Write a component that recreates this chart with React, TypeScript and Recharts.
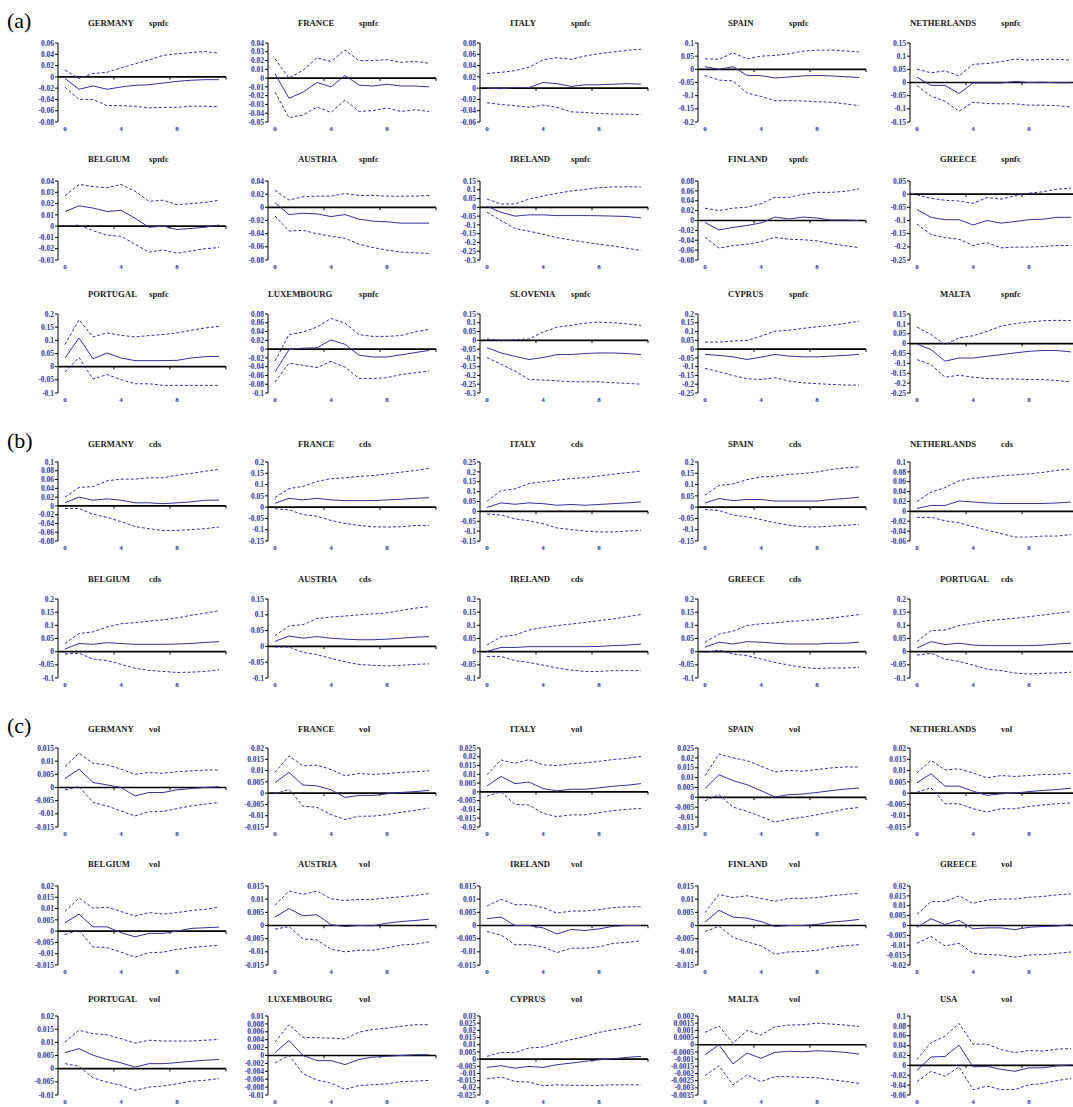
import React from 'react';
import { LineChart, Line, XAxis, YAxis, ReferenceLine } from 'recharts';

// impulse-response horizons and labelled ticks
const horizons = [0, 1, 2, 3, 4, 5, 6, 7, 8, 9, 10, 11];
const xTicks = [0, 4, 8];

// ---------- (a) spnfc ----------
const aGermanyUp = [0.012, -0.003, 0.006, 0.008, 0.016, 0.023, 0.03, 0.038, 0.041, 0.043, 0.045, 0.042];
const aGermanyMid = [-0.003, -0.022, -0.016, -0.022, -0.018, -0.015, -0.014, -0.011, -0.008, -0.006, -0.005, -0.005];
const aGermanyLo = [-0.018, -0.04, -0.04, -0.051, -0.051, -0.052, -0.055, -0.054, -0.054, -0.052, -0.052, -0.053];
const aFranceUp = [0.022, 0.0, 0.009, 0.023, 0.019, 0.032, 0.02, 0.02, 0.021, 0.018, 0.019, 0.017];
const aFranceMid = [0.005, -0.023, -0.016, -0.005, -0.01, 0.003, -0.008, -0.009, -0.007, -0.009, -0.009, -0.01];
const aFranceLo = [-0.016, -0.045, -0.042, -0.033, -0.039, -0.025, -0.038, -0.037, -0.034, -0.038, -0.036, -0.038];
const aItalyUp = [0.026, 0.028, 0.031, 0.037, 0.05, 0.054, 0.051, 0.057, 0.061, 0.064, 0.067, 0.069];
const aItalyMid = [0.0, -0.001, 0.001, 0.001, 0.01, 0.008, 0.003, 0.006, 0.006, 0.007, 0.008, 0.007];
const aItalyLo = [-0.026, -0.029, -0.031, -0.034, -0.03, -0.034, -0.042, -0.043, -0.045, -0.046, -0.046, -0.047];
const aSpainUp = [0.04, 0.038, 0.063, 0.04, 0.05, 0.053, 0.059, 0.069, 0.073, 0.073, 0.07, 0.066];
const aSpainMid = [0.01, 0.0, 0.01, -0.023, -0.024, -0.033, -0.029, -0.025, -0.023, -0.025, -0.028, -0.031];
const aSpainLo = [-0.023, -0.041, -0.044, -0.09, -0.103, -0.119, -0.119, -0.12, -0.123, -0.125, -0.131, -0.138];
const aNetherlandsUp = [0.05, 0.037, 0.044, 0.025, 0.069, 0.072, 0.079, 0.089, 0.085, 0.088, 0.088, 0.085];
const aNetherlandsMid = [0.02, -0.011, -0.011, -0.042, -0.002, -0.002, -0.002, 0.004, 0.0, 0.001, -0.001, -0.001];
const aNetherlandsLo = [-0.012, -0.052, -0.071, -0.109, -0.075, -0.08, -0.081, -0.081, -0.086, -0.086, -0.088, -0.093];

const aBelgiumUp = [0.027, 0.037, 0.035, 0.034, 0.037, 0.031, 0.022, 0.023, 0.019, 0.02, 0.021, 0.023];
const aBelgiumMid = [0.013, 0.018, 0.016, 0.013, 0.014, 0.007, -0.001, 0.0, -0.003, -0.002, -0.001, 0.001];
const aBelgiumLo = [0.0, 0.001, -0.004, -0.008, -0.009, -0.016, -0.023, -0.021, -0.024, -0.022, -0.02, -0.019];
const aAustriaUp = [0.026, 0.011, 0.016, 0.017, 0.017, 0.021, 0.018, 0.018, 0.017, 0.017, 0.017, 0.018];
const aAustriaMid = [0.007, -0.011, -0.009, -0.01, -0.014, -0.011, -0.018, -0.021, -0.022, -0.024, -0.024, -0.024];
const aAustriaLo = [-0.013, -0.036, -0.035, -0.04, -0.044, -0.047, -0.056, -0.061, -0.065, -0.068, -0.069, -0.07];
const aIrelandUp = [0.047, 0.019, 0.019, 0.047, 0.065, 0.08, 0.093, 0.102, 0.112, 0.116, 0.117, 0.116];
const aIrelandMid = [0.006, -0.028, -0.05, -0.043, -0.043, -0.047, -0.047, -0.047, -0.048, -0.05, -0.052, -0.06];
const aIrelandLo = [-0.028, -0.075, -0.121, -0.136, -0.153, -0.173, -0.186, -0.199, -0.21, -0.22, -0.233, -0.246];
const aFinlandUp = [0.025, 0.02, 0.025, 0.027, 0.034, 0.047, 0.047, 0.053, 0.057, 0.057, 0.059, 0.064];
const aFinlandMid = [-0.004, -0.019, -0.014, -0.01, -0.005, 0.007, 0.003, 0.007, 0.005, 0.001, 0.001, 0.0];
const aFinlandLo = [-0.034, -0.056, -0.051, -0.048, -0.043, -0.034, -0.038, -0.039, -0.041, -0.047, -0.051, -0.055];
const aGreeceUp = [-0.003, -0.016, -0.023, -0.026, -0.035, -0.013, -0.019, -0.006, 0.004, 0.009, 0.019, 0.023];
const aGreeceMid = [-0.058, -0.088, -0.097, -0.097, -0.117, -0.1, -0.11, -0.104, -0.097, -0.095, -0.088, -0.088];
const aGreeceLo = [-0.114, -0.153, -0.165, -0.171, -0.195, -0.184, -0.204, -0.201, -0.201, -0.199, -0.195, -0.195];

const aPortugalUp = [0.084, 0.178, 0.113, 0.128, 0.119, 0.113, 0.118, 0.122, 0.128, 0.138, 0.147, 0.153];
const aPortugalMid = [0.033, 0.109, 0.03, 0.052, 0.033, 0.023, 0.023, 0.023, 0.024, 0.033, 0.038, 0.039];
const aPortugalLo = [-0.02, 0.035, -0.047, -0.03, -0.049, -0.065, -0.065, -0.071, -0.071, -0.071, -0.071, -0.071];
const aLuxembourgUp = [-0.027, 0.033, 0.039, 0.05, 0.07, 0.059, 0.033, 0.029, 0.029, 0.031, 0.039, 0.045];
const aLuxembourgMid = [-0.052, -0.001, 0.002, 0.003, 0.021, 0.011, -0.014, -0.018, -0.018, -0.013, -0.008, -0.003];
const aLuxembourgLo = [-0.075, -0.032, -0.037, -0.042, -0.028, -0.041, -0.067, -0.067, -0.065, -0.058, -0.054, -0.05];
const aSloveniaUp = [0.008, 0.0, 0.004, 0.008, 0.047, 0.075, 0.085, 0.098, 0.104, 0.1, 0.094, 0.085];
const aSloveniaMid = [-0.042, -0.072, -0.091, -0.109, -0.098, -0.081, -0.081, -0.075, -0.072, -0.072, -0.075, -0.081];
const aSloveniaLo = [-0.098, -0.136, -0.175, -0.223, -0.226, -0.23, -0.236, -0.236, -0.236, -0.242, -0.245, -0.25];
const aCyprusUp = [0.04, 0.04, 0.046, 0.049, 0.074, 0.102, 0.108, 0.118, 0.127, 0.135, 0.146, 0.159];
const aCyprusMid = [-0.03, -0.036, -0.044, -0.059, -0.046, -0.03, -0.04, -0.044, -0.044, -0.04, -0.036, -0.03];
const aCyprusLo = [-0.11, -0.129, -0.15, -0.169, -0.173, -0.163, -0.182, -0.192, -0.197, -0.201, -0.205, -0.205];
const aMaltaUp = [0.084, 0.046, -0.005, 0.029, 0.04, 0.062, 0.088, 0.101, 0.11, 0.116, 0.118, 0.116];
const aMaltaMid = [-0.002, -0.03, -0.089, -0.073, -0.073, -0.064, -0.056, -0.047, -0.039, -0.035, -0.035, -0.042];
const aMaltaLo = [-0.081, -0.106, -0.17, -0.16, -0.17, -0.177, -0.179, -0.179, -0.182, -0.182, -0.187, -0.194];

// ---------- (b) cds ----------
const bGermanyUp = [0.02, 0.042, 0.044, 0.057, 0.061, 0.061, 0.064, 0.064, 0.07, 0.074, 0.079, 0.083];
const bGermanyMid = [0.007, 0.02, 0.013, 0.016, 0.013, 0.007, 0.007, 0.005, 0.007, 0.009, 0.013, 0.013];
const bGermanyLo = [-0.006, -0.006, -0.019, -0.026, -0.036, -0.047, -0.052, -0.056, -0.056, -0.054, -0.052, -0.048];
const bFranceUp = [0.043, 0.082, 0.092, 0.114, 0.126, 0.13, 0.136, 0.14, 0.147, 0.155, 0.162, 0.172];
const bFranceMid = [0.017, 0.039, 0.032, 0.039, 0.032, 0.029, 0.029, 0.029, 0.032, 0.035, 0.039, 0.042];
const bFranceLo = [-0.007, -0.012, -0.033, -0.04, -0.059, -0.072, -0.081, -0.087, -0.088, -0.087, -0.081, -0.081];
const bItalyUp = [0.051, 0.105, 0.114, 0.141, 0.15, 0.158, 0.166, 0.171, 0.179, 0.188, 0.196, 0.204];
const bItalyMid = [0.02, 0.043, 0.036, 0.043, 0.039, 0.031, 0.035, 0.031, 0.035, 0.039, 0.043, 0.048];
const bItalyLo = [-0.013, -0.018, -0.038, -0.048, -0.063, -0.084, -0.092, -0.1, -0.104, -0.104, -0.1, -0.097];
const bSpainUp = [0.053, 0.096, 0.103, 0.122, 0.134, 0.137, 0.145, 0.149, 0.156, 0.167, 0.174, 0.178];
const bSpainMid = [0.019, 0.038, 0.029, 0.034, 0.034, 0.027, 0.027, 0.027, 0.027, 0.034, 0.038, 0.044];
const bSpainLo = [-0.01, -0.015, -0.035, -0.043, -0.055, -0.069, -0.08, -0.087, -0.088, -0.084, -0.08, -0.077];
const bNetherlandsUp = [0.02, 0.039, 0.048, 0.062, 0.067, 0.069, 0.072, 0.074, 0.076, 0.079, 0.083, 0.086];
const bNetherlandsMid = [0.006, 0.012, 0.012, 0.021, 0.019, 0.017, 0.016, 0.016, 0.016, 0.016, 0.017, 0.019];
const bNetherlandsLo = [-0.012, -0.012, -0.019, -0.023, -0.031, -0.038, -0.045, -0.052, -0.052, -0.05, -0.05, -0.047];

const bBelgiumUp = [0.031, 0.069, 0.075, 0.094, 0.106, 0.11, 0.116, 0.121, 0.128, 0.138, 0.146, 0.156];
const bBelgiumMid = [0.01, 0.031, 0.028, 0.034, 0.031, 0.028, 0.028, 0.028, 0.029, 0.031, 0.035, 0.038];
const bBelgiumLo = [-0.009, -0.006, -0.028, -0.034, -0.048, -0.063, -0.071, -0.075, -0.079, -0.078, -0.075, -0.069];
const bAustriaUp = [0.034, 0.065, 0.069, 0.088, 0.093, 0.096, 0.1, 0.103, 0.106, 0.114, 0.121, 0.126];
const bAustriaMid = [0.016, 0.033, 0.026, 0.031, 0.026, 0.023, 0.021, 0.021, 0.023, 0.026, 0.029, 0.031];
const bAustriaLo = [-0.002, -0.002, -0.019, -0.026, -0.038, -0.049, -0.057, -0.06, -0.062, -0.06, -0.057, -0.055];
const bIrelandUp = [0.025, 0.057, 0.063, 0.082, 0.092, 0.099, 0.105, 0.111, 0.118, 0.124, 0.133, 0.141];
const bIrelandMid = [0.001, 0.016, 0.016, 0.019, 0.019, 0.019, 0.019, 0.019, 0.02, 0.023, 0.025, 0.029];
const bIrelandLo = [-0.018, -0.018, -0.034, -0.041, -0.051, -0.062, -0.07, -0.075, -0.075, -0.072, -0.072, -0.072];
const bGreeceUp = [0.036, 0.067, 0.078, 0.099, 0.106, 0.109, 0.115, 0.118, 0.122, 0.127, 0.134, 0.141];
const bGreeceMid = [0.017, 0.036, 0.029, 0.038, 0.036, 0.032, 0.029, 0.029, 0.029, 0.032, 0.032, 0.036];
const bGreeceLo = [-0.003, 0.006, -0.009, -0.015, -0.028, -0.041, -0.051, -0.06, -0.064, -0.062, -0.062, -0.06];
const bPortugalUp = [0.038, 0.08, 0.082, 0.099, 0.108, 0.118, 0.122, 0.127, 0.133, 0.139, 0.146, 0.152];
const bPortugalMid = [0.014, 0.038, 0.027, 0.032, 0.025, 0.023, 0.023, 0.023, 0.023, 0.025, 0.029, 0.032];
const bPortugalLo = [-0.013, -0.006, -0.028, -0.037, -0.051, -0.066, -0.072, -0.081, -0.085, -0.082, -0.081, -0.078];

// ---------- (c) vol ----------
const cGermanyUp = [0.008, 0.013, 0.0092, 0.0086, 0.007, 0.005, 0.0057, 0.0054, 0.006, 0.0063, 0.0066, 0.0067];
const cGermanyMid = [0.0034, 0.007, 0.0019, 0.001, 0.0, -0.0032, -0.0019, -0.0019, -0.0009, -0.0004, 0.0, 0.0003];
const cGermanyLo = [-0.0009, 0.0004, -0.0057, -0.007, -0.0089, -0.0108, -0.0092, -0.0091, -0.008, -0.007, -0.0063, -0.0057];
const cFranceUp = [0.0092, 0.0165, 0.0121, 0.0124, 0.0105, 0.0077, 0.0087, 0.0083, 0.0087, 0.0092, 0.0095, 0.0099];
const cFranceMid = [0.0047, 0.0092, 0.0036, 0.0032, 0.0015, -0.0019, -0.001, -0.001, -0.0003, 0.0003, 0.0007, 0.0012];
const cFranceLo = [-0.0003, 0.0017, -0.0058, -0.0063, -0.0095, -0.0117, -0.0102, -0.0102, -0.0095, -0.0085, -0.0076, -0.0066];
const cItalyUp = [0.0098, 0.0182, 0.0163, 0.0184, 0.0154, 0.015, 0.016, 0.0165, 0.0174, 0.0184, 0.0191, 0.0202];
const cItalyMid = [0.0034, 0.0088, 0.0047, 0.0056, 0.0019, 0.0006, 0.0015, 0.0015, 0.0023, 0.0032, 0.0038, 0.0047];
const cItalyLo = [-0.0024, 0.0, -0.0071, -0.0075, -0.0122, -0.0141, -0.0131, -0.0131, -0.0118, -0.0107, -0.0099, -0.0094];
const cSpainUp = [0.011, 0.022, 0.02, 0.0186, 0.0158, 0.0129, 0.0137, 0.0132, 0.0141, 0.0149, 0.0154, 0.0154];
const cSpainMid = [0.0044, 0.0115, 0.0085, 0.0064, 0.0034, 0.0002, 0.0014, 0.0017, 0.0025, 0.0034, 0.0042, 0.0047];
const cSpainLo = [-0.0017, 0.0014, -0.0049, -0.0071, -0.0097, -0.0125, -0.011, -0.01, -0.0088, -0.0075, -0.0059, -0.0051];
const cNetherlandsUp = [0.009, 0.0145, 0.0103, 0.0108, 0.0089, 0.0068, 0.0078, 0.0074, 0.0078, 0.0083, 0.0083, 0.0089];
const cNetherlandsMid = [0.0046, 0.0086, 0.0031, 0.0031, 0.0009, -0.001, -0.0003, 0.0, 0.0007, 0.0012, 0.0016, 0.0022];
const cNetherlandsLo = [0.0004, 0.0024, -0.0047, -0.0047, -0.0069, -0.0084, -0.0069, -0.0069, -0.0059, -0.0052, -0.0047, -0.0043];

const cBelgiumUp = [0.0087, 0.0147, 0.0102, 0.0106, 0.0087, 0.0067, 0.0082, 0.0076, 0.0082, 0.0091, 0.0097, 0.0106];
const cBelgiumMid = [0.0037, 0.0075, 0.0019, 0.0019, -0.0007, -0.0025, -0.001, -0.001, 0.0, 0.0012, 0.0015, 0.0018];
const cBelgiumLo = [-0.0015, 0.0004, -0.007, -0.0073, -0.0093, -0.0115, -0.0096, -0.0093, -0.0081, -0.0073, -0.0067, -0.0063];
const cAustriaUp = [0.0077, 0.0131, 0.0118, 0.0131, 0.0101, 0.0095, 0.0099, 0.0099, 0.0105, 0.0109, 0.0114, 0.0121];
const cAustriaMid = [0.0032, 0.0064, 0.0037, 0.0041, 0.0003, -0.0004, 0.0, -0.0001, 0.0009, 0.0015, 0.0019, 0.0024];
const cAustriaLo = [-0.0014, -0.0004, -0.0051, -0.0055, -0.009, -0.01, -0.0094, -0.0094, -0.0085, -0.0074, -0.0071, -0.0062];
const cIrelandUp = [0.0074, 0.01, 0.0079, 0.0079, 0.0068, 0.0047, 0.0055, 0.0055, 0.006, 0.0068, 0.0071, 0.0071];
const cIrelandMid = [0.0026, 0.0032, 0.0, 0.0, -0.0009, -0.0032, -0.0015, -0.0019, -0.0013, -0.0003, 0.0, 0.0];
const cIrelandLo = [-0.0023, -0.0036, -0.0073, -0.0073, -0.0081, -0.0103, -0.0086, -0.0086, -0.0081, -0.0068, -0.0064, -0.0058];
const cFinlandUp = [0.0049, 0.0118, 0.0106, 0.0113, 0.0103, 0.0092, 0.0103, 0.0103, 0.0106, 0.0113, 0.0118, 0.0122];
const cFinlandMid = [0.0013, 0.0058, 0.0032, 0.0028, 0.0015, -0.0004, 0.0, 0.0, 0.0004, 0.0013, 0.0017, 0.0023];
const cFinlandLo = [-0.0023, -0.0003, -0.0045, -0.0062, -0.0077, -0.0109, -0.01, -0.0099, -0.0094, -0.0083, -0.0077, -0.0073];
const cGreeceUp = [0.0057, 0.0121, 0.0121, 0.015, 0.0112, 0.0129, 0.0134, 0.0134, 0.0143, 0.0147, 0.0155, 0.016];
const cGreeceMid = [-0.0009, 0.0034, 0.0005, 0.0026, -0.0017, -0.0012, -0.0012, -0.0021, -0.0009, -0.0005, -0.0003, 0.0005];
const cGreeceLo = [-0.009, -0.0055, -0.0103, -0.009, -0.0141, -0.0147, -0.015, -0.016, -0.015, -0.0147, -0.0141, -0.0134];

const cPortugalUp = [0.0101, 0.0146, 0.0133, 0.0129, 0.0114, 0.0097, 0.0108, 0.0105, 0.0105, 0.0105, 0.0108, 0.0111];
const cPortugalMid = [0.0061, 0.0076, 0.0051, 0.0035, 0.0022, 0.0006, 0.0019, 0.0019, 0.0023, 0.0028, 0.0032, 0.0035];
const cPortugalLo = [0.0019, 0.0009, -0.0035, -0.0051, -0.0063, -0.0082, -0.007, -0.0066, -0.0057, -0.0048, -0.0044, -0.0038];
const cLuxembourgUp = [0.0034, 0.0078, 0.0046, 0.0045, 0.0044, 0.0042, 0.0059, 0.0066, 0.0069, 0.0074, 0.0078, 0.0078];
const cLuxembourgMid = [0.0007, 0.0038, 0.0, -0.0013, -0.0013, -0.0023, -0.001, -0.0004, -0.0002, 0.0, 0.0002, 0.0002];
const cLuxembourgLo = [-0.0019, 0.0, -0.0046, -0.0062, -0.007, -0.0086, -0.0076, -0.0074, -0.0072, -0.0066, -0.0065, -0.0063];
const cCyprusUp = [0.0019, 0.0046, 0.0046, 0.0077, 0.0084, 0.0111, 0.0135, 0.0158, 0.0186, 0.0204, 0.022, 0.0244];
const cCyprusMid = [-0.0058, -0.0046, -0.0063, -0.0051, -0.0058, -0.0039, -0.0028, -0.0016, -0.0005, 0.0002, 0.0012, 0.0019];
const cCyprusLo = [-0.0137, -0.0125, -0.0155, -0.016, -0.0186, -0.0179, -0.0183, -0.0183, -0.0183, -0.0179, -0.0179, -0.0179];
const cMaltaUp = [0.00086, 0.0013, 0.0001, 0.001, 0.00067, 0.00125, 0.00137, 0.00139, 0.0015, 0.00144, 0.00137, 0.00127];
const cMaltaMid = [-0.0007, 0.0, -0.00134, -0.00058, -0.00095, -0.00053, -0.00046, -0.00049, -0.00042, -0.00046, -0.00053, -0.00065];
const cMaltaLo = [-0.00215, -0.00146, -0.0028, -0.0021, -0.00257, -0.00222, -0.00222, -0.00227, -0.00231, -0.00243, -0.00255, -0.00269];
const cUsaUp = [0.012, 0.046, 0.059, 0.085, 0.043, 0.043, 0.032, 0.026, 0.03, 0.029, 0.033, 0.034];
const cUsaMid = [-0.01, 0.017, 0.018, 0.041, -0.003, -0.002, -0.008, -0.012, -0.005, -0.005, -0.001, 0.001];
const cUsaLo = [-0.033, -0.012, -0.022, -0.003, -0.049, -0.042, -0.049, -0.049, -0.039, -0.037, -0.031, -0.026];

// y-axis ranges [min, max, step] for each row of panels
const axesA1 = [[-0.08, 0.06, 0.02], [-0.05, 0.04, 0.01], [-0.06, 0.08, 0.02], [-0.2, 0.1, 0.05], [-0.15, 0.15, 0.05]];
const axesA2 = [[-0.03, 0.04, 0.01], [-0.08, 0.04, 0.02], [-0.3, 0.15, 0.05], [-0.08, 0.08, 0.02], [-0.25, 0.05, 0.05]];
const axesA3 = [[-0.1, 0.2, 0.05], [-0.1, 0.08, 0.02], [-0.3, 0.15, 0.05], [-0.25, 0.2, 0.05], [-0.25, 0.15, 0.05]];
const axesB1 = [[-0.08, 0.1, 0.02], [-0.15, 0.2, 0.05], [-0.15, 0.25, 0.05], [-0.15, 0.2, 0.05], [-0.06, 0.1, 0.02]];
const axesB2 = [[-0.1, 0.2, 0.05], [-0.1, 0.15, 0.05], [-0.1, 0.2, 0.05], [-0.1, 0.2, 0.05], [-0.1, 0.2, 0.05]];
const axesC1 = [[-0.015, 0.015, 0.005], [-0.015, 0.02, 0.005], [-0.02, 0.025, 0.005], [-0.015, 0.025, 0.005], [-0.015, 0.02, 0.005]];
const axesC2 = [[-0.015, 0.02, 0.005], [-0.015, 0.015, 0.005], [-0.015, 0.015, 0.005], [-0.015, 0.015, 0.005], [-0.02, 0.02, 0.005]];
const axesC3 = [[-0.01, 0.02, 0.005], [-0.01, 0.01, 0.002], [-0.025, 0.03, 0.005], [-0.0035, 0.002, 0.0005], [-0.06, 0.1, 0.02]];

const LINE = '#333399';
const SERIF = '"Liberation Serif", "Times New Roman", serif';
const colX = [58, 268, 480, 698, 910]; // x of each column's y axis

type PanelDef = { name: string; v: string; up: number[]; mid: number[]; lo: number[]; axis: number[] };
const mk = (name: string, v: string, up: number[], mid: number[], lo: number[], axis: number[]): PanelDef => ({ name, v, up, mid, lo, axis });

const rows: { top: number; titleY: number; panels: PanelDef[] }[] = [
  { top: 43, titleY: 23, panels: [
    mk('GERMANY', 'spnfc', aGermanyUp, aGermanyMid, aGermanyLo, axesA1[0]),
    mk('FRANCE', 'spnfc', aFranceUp, aFranceMid, aFranceLo, axesA1[1]),
    mk('ITALY', 'spnfc', aItalyUp, aItalyMid, aItalyLo, axesA1[2]),
    mk('SPAIN', 'spnfc', aSpainUp, aSpainMid, aSpainLo, axesA1[3]),
    mk('NETHERLANDS', 'spnfc', aNetherlandsUp, aNetherlandsMid, aNetherlandsLo, axesA1[4]),
  ] },
  { top: 181, titleY: 159, panels: [
    mk('BELGIUM', 'spnfc', aBelgiumUp, aBelgiumMid, aBelgiumLo, axesA2[0]),
    mk('AUSTRIA', 'spnfc', aAustriaUp, aAustriaMid, aAustriaLo, axesA2[1]),
    mk('IRELAND', 'spnfc', aIrelandUp, aIrelandMid, aIrelandLo, axesA2[2]),
    mk('FINLAND', 'spnfc', aFinlandUp, aFinlandMid, aFinlandLo, axesA2[3]),
    mk('GREECE', 'spnfc', aGreeceUp, aGreeceMid, aGreeceLo, axesA2[4]),
  ] },
  { top: 314, titleY: 294, panels: [
    mk('PORTUGAL', 'spnfc', aPortugalUp, aPortugalMid, aPortugalLo, axesA3[0]),
    mk('LUXEMBOURG', 'spnfc', aLuxembourgUp, aLuxembourgMid, aLuxembourgLo, axesA3[1]),
    mk('SLOVENIA', 'spnfc', aSloveniaUp, aSloveniaMid, aSloveniaLo, axesA3[2]),
    mk('CYPRUS', 'spnfc', aCyprusUp, aCyprusMid, aCyprusLo, axesA3[3]),
    mk('MALTA', 'spnfc', aMaltaUp, aMaltaMid, aMaltaLo, axesA3[4]),
  ] },
  { top: 462, titleY: 444, panels: [
    mk('GERMANY', 'cds', bGermanyUp, bGermanyMid, bGermanyLo, axesB1[0]),
    mk('FRANCE', 'cds', bFranceUp, bFranceMid, bFranceLo, axesB1[1]),
    mk('ITALY', 'cds', bItalyUp, bItalyMid, bItalyLo, axesB1[2]),
    mk('SPAIN', 'cds', bSpainUp, bSpainMid, bSpainLo, axesB1[3]),
    mk('NETHERLANDS', 'cds', bNetherlandsUp, bNetherlandsMid, bNetherlandsLo, axesB1[4]),
  ] },
  { top: 599, titleY: 579, panels: [
    mk('BELGIUM', 'cds', bBelgiumUp, bBelgiumMid, bBelgiumLo, axesB2[0]),
    mk('AUSTRIA', 'cds', bAustriaUp, bAustriaMid, bAustriaLo, axesB2[1]),
    mk('IRELAND', 'cds', bIrelandUp, bIrelandMid, bIrelandLo, axesB2[2]),
    mk('GREECE', 'cds', bGreeceUp, bGreeceMid, bGreeceLo, axesB2[3]),
    mk('PORTUGAL', 'cds', bPortugalUp, bPortugalMid, bPortugalLo, axesB2[4]),
  ] },
  { top: 748, titleY: 729, panels: [
    mk('GERMANY', 'vol', cGermanyUp, cGermanyMid, cGermanyLo, axesC1[0]),
    mk('FRANCE', 'vol', cFranceUp, cFranceMid, cFranceLo, axesC1[1]),
    mk('ITALY', 'vol', cItalyUp, cItalyMid, cItalyLo, axesC1[2]),
    mk('SPAIN', 'vol', cSpainUp, cSpainMid, cSpainLo, axesC1[3]),
    mk('NETHERLANDS', 'vol', cNetherlandsUp, cNetherlandsMid, cNetherlandsLo, axesC1[4]),
  ] },
  { top: 886, titleY: 864, panels: [
    mk('BELGIUM', 'vol', cBelgiumUp, cBelgiumMid, cBelgiumLo, axesC2[0]),
    mk('AUSTRIA', 'vol', cAustriaUp, cAustriaMid, cAustriaLo, axesC2[1]),
    mk('IRELAND', 'vol', cIrelandUp, cIrelandMid, cIrelandLo, axesC2[2]),
    mk('FINLAND', 'vol', cFinlandUp, cFinlandMid, cFinlandLo, axesC2[3]),
    mk('GREECE', 'vol', cGreeceUp, cGreeceMid, cGreeceLo, axesC2[4]),
  ] },
  { top: 1016, titleY: 999, panels: [
    mk('PORTUGAL', 'vol', cPortugalUp, cPortugalMid, cPortugalLo, axesC3[0]),
    mk('LUXEMBOURG', 'vol', cLuxembourgUp, cLuxembourgMid, cLuxembourgLo, axesC3[1]),
    mk('CYPRUS', 'vol', cCyprusUp, cCyprusMid, cCyprusLo, axesC3[2]),
    mk('MALTA', 'vol', cMaltaUp, cMaltaMid, cMaltaLo, axesC3[3]),
    mk('USA', 'vol', cUsaUp, cUsaMid, cUsaLo, axesC3[4]),
  ] },
];

const sections = [
  { label: '(a)', y: 21 },
  { label: '(b)', y: 441 },
  { label: '(c)', y: 726 },
];

const PLOT_H = 79;

function makeTicks([min, max, step]: number[]) {
  const n = Math.round((max - min) / step);
  return Array.from({ length: n + 1 }, (_, i) => parseFloat((min + i * step).toFixed(6)));
}

const yTickFont = { fontSize: 7.5, fontWeight: 700, fontFamily: SERIF, fill: LINE };
const xTickFont = { fontSize: 7, fontWeight: 700, fontFamily: SERIF, fill: LINE };
const titleFont: React.CSSProperties = {
  position: 'absolute', fontFamily: SERIF, fontWeight: 700, fontSize: 8.7, color: '#1a1a1a',
  lineHeight: '12px', whiteSpace: 'nowrap',
};

const Panel = ({ p, axisX, top, titleY }: { p: PanelDef; axisX: number; top: number; titleY: number }) => {
  const data = horizons.map((t, i) => ({ t, up: p.up[i], mid: p.mid[i], lo: p.lo[i] }));
  const [min, max] = p.axis;
  const notch = (max - min) * 0.035;
  return (
    <>
      <div style={{ ...titleFont, left: axisX + (p.name.length > 9 ? 0 : 30), top: titleY - 6 }}>{p.name}</div>
      <div style={{ ...titleFont, left: axisX + 91, top: titleY - 6 }}>{p.v}</div>
      <div style={{ position: 'absolute', left: axisX - 42, top: top - 5 }}>
        <LineChart width={212} height={5 + PLOT_H + 16} data={data} margin={{ top: 5, right: 2, bottom: 0, left: 0 }}>
          <XAxis
            dataKey="t" type="number" domain={[-0.5, 11.5]} ticks={xTicks} interval={0}
            axisLine={false} tickLine={false} tickSize={0} tickMargin={4} height={16} tick={xTickFont}
            allowDataOverflow
          />
          <YAxis
            type="number" domain={[min, max]} ticks={makeTicks(p.axis)} interval={0} width={42}
            tickSize={3} tickMargin={1} axisLine={{ stroke: '#000', strokeWidth: 1 }} tickLine={{ stroke: '#000' }}
            tick={yTickFont} tickFormatter={(v: number) => String(v)} allowDataOverflow
          />
          <ReferenceLine y={0} stroke="#000" strokeWidth={1.6} />
          {[3.5, 7.5, 11.5].map((x) => (
            <ReferenceLine key={x} segment={[{ x, y: 0 }, { x, y: -notch }]} stroke="#000" strokeWidth={1} />
          ))}
          <Line dataKey="up" stroke={LINE} strokeWidth={1} strokeDasharray="3 2" dot={false} isAnimationActive={false} />
          <Line dataKey="mid" stroke={LINE} strokeWidth={1} dot={false} isAnimationActive={false} />
          <Line dataKey="lo" stroke={LINE} strokeWidth={1} strokeDasharray="3 2" dot={false} isAnimationActive={false} />
        </LineChart>
      </div>
    </>
  );
};

export default function App() {
  return (
    <div style={{ position: 'absolute', left: 0, top: 0, width: 1073, height: 1107, overflow: 'hidden', background: '#fff' }}>
      {sections.map((s) => (
        <div key={s.label} style={{ position: 'absolute', left: 7, top: s.y - 12, fontFamily: SERIF, fontSize: 22, lineHeight: '24px', color: '#000' }}>
          {s.label}
        </div>
      ))}
      {rows.map((r, ri) =>
        r.panels.map((p, ci) => (
          <Panel key={`${ri}-${ci}`} p={p} axisX={colX[ci]} top={r.top} titleY={r.titleY} />
        ))
      )}
    </div>
  );
}
